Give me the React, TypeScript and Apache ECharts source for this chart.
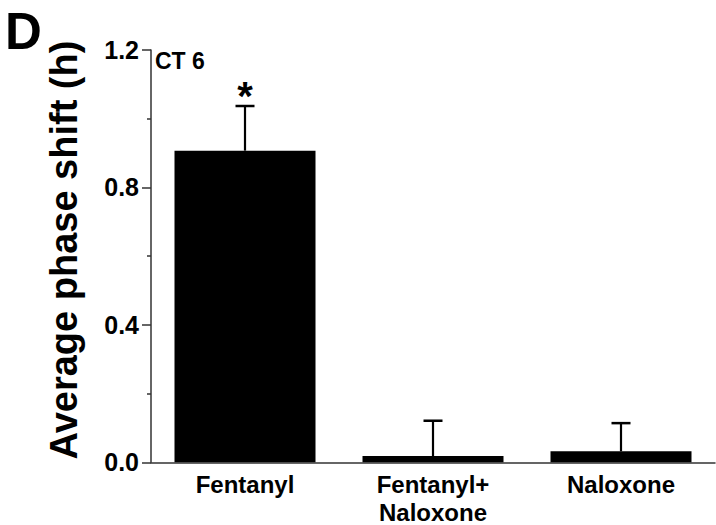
import React, { useEffect, useRef } from "react";
import * as echarts from "echarts";

const categories = ["Fentanyl", "Fentanyl+\nNaloxone", "Naloxone"];
const means = [0.907, 0.018, 0.032];
const sems = [0.13, 0.103, 0.082];
const marks = ["*", "", ""];
const yTicks = [0, 0.4, 0.8, 1.2];

const FONT = "Liberation Sans, Arial, sans-serif";

export default function App() {
  const ref = useRef<HTMLDivElement>(null);
  useEffect(() => {
    if (!ref.current) return;
    const chart = echarts.init(ref.current, null, { renderer: "svg" });
    const errData = means.map((m, i) => [i, m, m + sems[i], marks[i]]);
    chart.setOption({
      animation: false,
      backgroundColor: "#fff",
      grid: {
        left: 151,
        right: 1,
        top: 50,
        bottom: 62.7,
        containLabel: false,
        outerBoundsMode: "none",
      },
      xAxis: {
        type: "category",
        data: categories,
        axisLine: { lineStyle: { color: "#333", width: 1.5 } },
        axisTick: { show: false },
        axisLabel: {
          color: "#000",
          fontFamily: FONT,
          fontWeight: "bold",
          fontSize: 24,
          lineHeight: 28,
          margin: 8,
          interval: 0,
        },
      },
      yAxis: {
        type: "value",
        min: yTicks[0],
        max: yTicks[yTicks.length - 1],
        interval: 0.4,
        splitLine: { show: false },
        axisLine: { show: true, lineStyle: { color: "#333", width: 1.5 } },
        axisTick: { show: true, length: 9, lineStyle: { color: "#333", width: 1.5 } },
        minorTick: { show: true, splitNumber: 2, length: 4, lineStyle: { color: "#333", width: 1.5 } },
        axisLabel: {
          color: "#000",
          fontFamily: FONT,
          fontWeight: "bold",
          fontSize: 25,
          margin: 12,
          padding: [0, 0, 4, 0],
          formatter: (v: number) => v.toFixed(1),
        },
      },
      series: [
        {
          type: "bar",
          data: means,
          barCategoryGap: "25%",
          itemStyle: { color: "#000" },
          z: 2,
        },
        {
          type: "custom",
          data: errData,
          z: 3,
          renderItem: (params: any, api: any) => {
            const idx = api.value(0);
            const base = api.coord([idx, api.value(1)]);
            const top = api.coord([idx, api.value(2)]);
            const mark = marks[params.dataIndex];
            const half = 9.5;
            const children: any[] = [
              {
                type: "line",
                shape: { x1: base[0], y1: base[1], x2: top[0], y2: top[1] },
                style: { stroke: "#000", lineWidth: 2.2 },
              },
              {
                type: "line",
                shape: { x1: top[0] - half, y1: top[1], x2: top[0] + half, y2: top[1] },
                style: { stroke: "#000", lineWidth: 2.5 },
              },
            ];
            if (mark) {
              children.push({
                type: "text",
                x: top[0],
                y: top[1] - 10,
                style: {
                  text: mark,
                  fill: "#000",
                  font: `bold 40px ${FONT}`,
                  textAlign: "center",
                  textVerticalAlign: "middle",
                },
              });
            }
            return { type: "group", children };
          },
        },
      ],
      graphic: [
        {
          type: "text",
          left: 5,
          top: 6,
          style: { text: "D", fill: "#000", font: `bold 51px ${FONT}` },
        },
        {
          type: "text",
          x: 155,
          y: 61,
          style: {
            text: "CT 6",
            fill: "#000",
            font: `bold 23px ${FONT}`,
            textAlign: "left",
            textVerticalAlign: "middle",
          },
        },
        {
          type: "text",
          x: 64,
          y: 250,
          rotation: Math.PI / 2,
          style: {
            text: "Average phase shift (h)",
            fill: "#000",
            font: `bold 38px ${FONT}`,
            textAlign: "center",
            textVerticalAlign: "middle",
          },
        },
      ],
    });
    return () => chart.dispose();
  }, []);
  return (
    <div
      ref={ref}
      style={{ position: "absolute", left: 0, top: 0, width: 716, height: 525 }}
    />
  );
}
